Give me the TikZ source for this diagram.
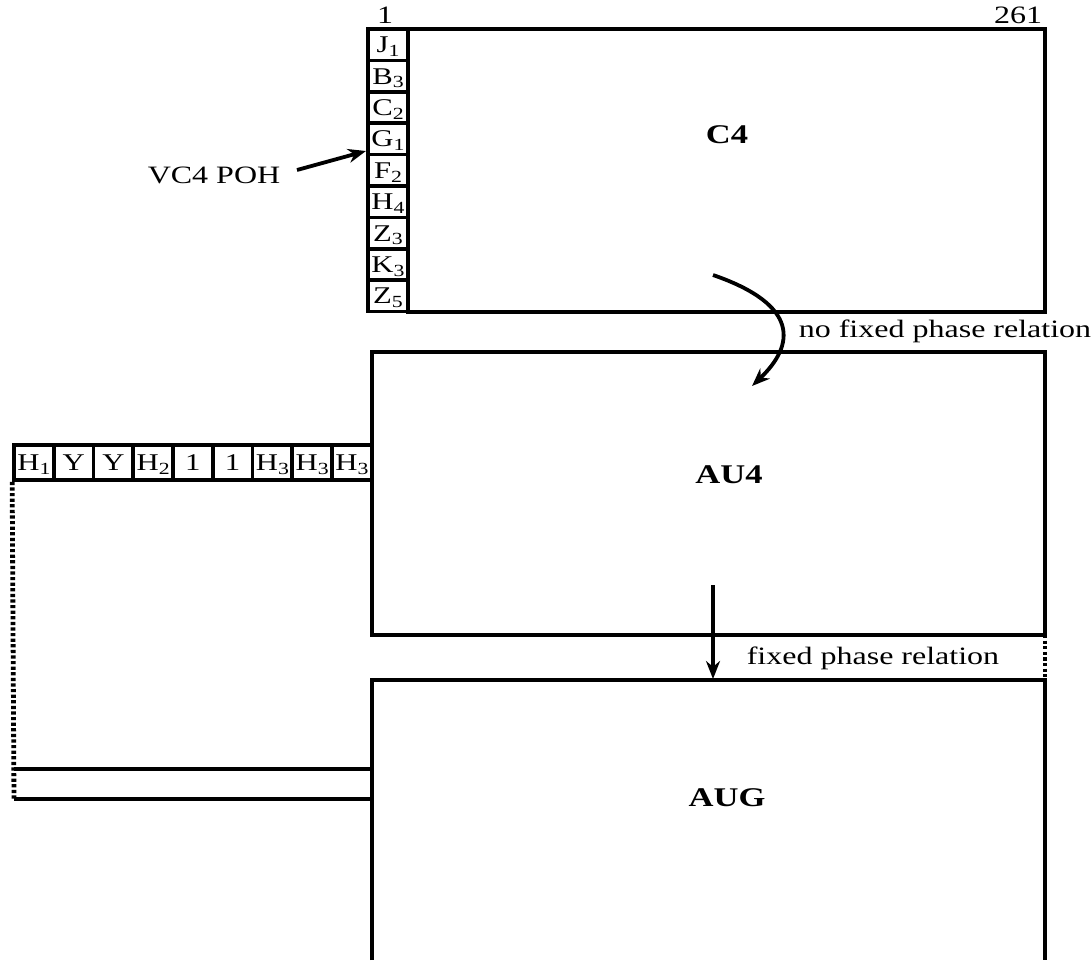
\documentclass[tikz,border=0pt]{standalone}
\usepackage{fontspec}
\setmainfont[FakeStretch=1.28]{Liberation Serif}
\usetikzlibrary{arrows.meta,positioning}
\newcommand{\subl}[1]{\raisebox{-0.35ex}{\fontsize{8.5}{9}\selectfont #1}}
\tikzset{cell/.style={draw,line width=1.8pt,inner sep=0pt,text height=8pt,text depth=0pt,
    font=\fontsize{12}{13}\selectfont},
  pohcell/.style={cell,minimum width=20pt,minimum height=15.75pt},
  hdrcell/.style={cell,minimum width=19.9pt,minimum height=17.5pt},
  lbl/.style={font=\fontsize{12.5}{15}\selectfont,inner sep=0pt,anchor=base},
  big/.style={font=\fontsize{13.5}{16}\selectfont\bfseries,inner sep=0pt,anchor=base},
  frame/.style={line width=1.9pt},
  dotline/.style={line width=2.4pt,dash pattern=on 1.6pt off 1.2pt},
  arr/.style={-{Stealth[length=9pt,width=7pt]},line width=1.9pt}}
\begin{document}
\begin{tikzpicture}[x=0.5pt,y=-0.5pt]
\useasboundingbox (0,0) rectangle (1091,960);
% C4 with the POH column
\draw[frame] (408,29) rectangle (1045,312);
\foreach \t/\s [count=\i] in {J/1,B/3,C/2,G/1,F/2,H/4,Z/3,K/3,Z/5}
  \node[pohcell] (poh\i) at (388,{29+31.4*(\i-0.5)}) {\t\subl{\s}};
\node[lbl] (colone) at (385,23) {1};
\node[lbl] (collast) at (1018,23) {261};
\node[big] (c4) at (727,143) {C4};
\node[lbl] (vcpoh) at (214,183) {VC4 POH};
\coordinate (pohtip) at (366,151);
\draw[arr] (297,170) -- (pohtip);
% AU4 with pointer row
\draw[frame] (372,352) rectangle (1045,635);
\foreach \t/\s [count=\i] in {H/1,Y/,Y/,H/2,1/,1/,H/3,H/3,H/3}
  \node[hdrcell] (ptr\i) at ({14+39.75*(\i-0.5)},462.5) {\t\subl{\s}};
\node[big] (au4) at (729,483) {AU4};
% AUG
\draw[frame] (372,960) -- (372,680) -- (1045,680) -- (1045,960);
\draw[frame] (14,769) -- (372,769);
\draw[frame] (14,799) -- (372,799);
\draw[dotline] (ptr1.south west) -- (14,800);
\draw[dotline] (1045,635) -- (1045,682);
\node[big] (aug) at (727,806) {AUG};
% phase relations
\coordinate (c4out) at (713,275);
\coordinate (au4in) at (752,386);
\draw[arr] (c4out) .. controls (800,305) and (795,345) .. (au4in);
\node[lbl] (nofixed) at (945,337) {no fixed phase relation};
\coordinate (au4out) at (713,585);
\coordinate (augin) at (713,679);
\draw[arr] (au4out) -- (augin);
\node[lbl] (fixed) at (873,664) {fixed phase relation};
\end{tikzpicture}
\end{document}
